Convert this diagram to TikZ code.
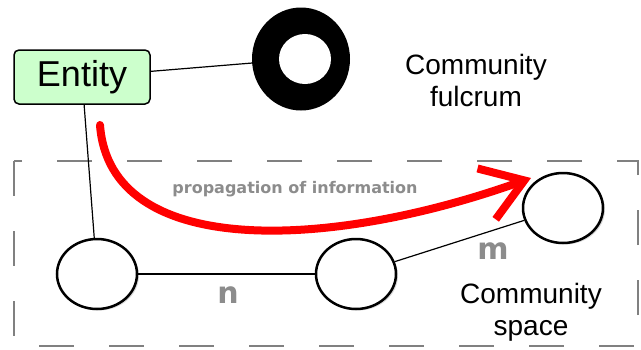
\documentclass[tikz,border=0pt]{standalone}
\usepackage{fontspec}
\setmainfont{Liberation Sans}
\newfontfamily\tagfont{DejaVu Sans}
\usetikzlibrary{shapes.geometric,arrows.meta,shadows}

\definecolor{entitygreen}{RGB}{204,255,204}
\definecolor{taggray}{RGB}{140,140,140}

\tikzset{
  entitybox/.style={draw, line width=1.5pt, rounded corners=5pt, fill=entitygreen,
    minimum width=136pt, minimum height=54pt, inner sep=0pt,
    font=\fontsize{36}{40}\selectfont},
  hub/.style={ellipse, draw, line width=2.5pt, fill=white, minimum width=80pt,
    minimum height=70pt, inner sep=0pt,
    drop shadow={shadow xshift=2pt, shadow yshift=-1.5pt, fill=black!30}},
  ring/.style={ellipse, fill=black, minimum width=98pt, minimum height=103pt, inner sep=0pt},
  tag/.style={text=taggray, font=\tagfont\bfseries\fontsize{30}{30}\selectfont},
  caption/.style={align=center, font=\fontsize{28}{32}\selectfont},
  link/.style={line width=1.2pt},
}

\begin{document}
\begin{tikzpicture}[x=1pt,y=-1pt]
    \useasboundingbox (0,0) rectangle (641,349);

    % community space
    \draw[gray, line width=1.5pt, dash pattern=on 35pt off 35pt] (14,161) rectangle (638,346);

    \node[entitybox] (entity) at (82,77) {Entity};
    \node[ring] (fulcrum) at (301,59) {};
    \fill[white] ([xshift=4pt]fulcrum.center) ellipse [x radius=26, y radius=25];
    \node[caption] (fulcrumtext) at (476,80) {Community\\fulcrum};

    \node[hub] (left) at (97,274) {};
    \node[hub] (middle) at (356,274) {};
    \node[hub] (right) at (563,208) {};
    \node[caption] (spacetext) at (531,312) {Community\\space};

    \draw[link] (entity) -- (fulcrum);
    \draw[link] (entity) -- (left);
    \draw[line width=2.5pt] (left) -- (middle);
    \draw[link] (middle) -- (right);

    \node[tag] (n) at (228,295) {n};
    \node[tag] (m) at (493,251) {m};
    \node[tag, font=\tagfont\bfseries\fontsize{16}{16}\selectfont] (prop) at (295,189) {propagation of information};

    % flow of information
    \coordinate (flowstart) at (100,125);
    \coordinate (flowend) at (531,178);
    \draw[red, line width=8pt, line cap=round, -{Straight Barb[length=40pt,width=54pt]}]
        (flowstart) .. controls (110,260) and (330,250) .. (flowend);
\end{tikzpicture}
\end{document}
